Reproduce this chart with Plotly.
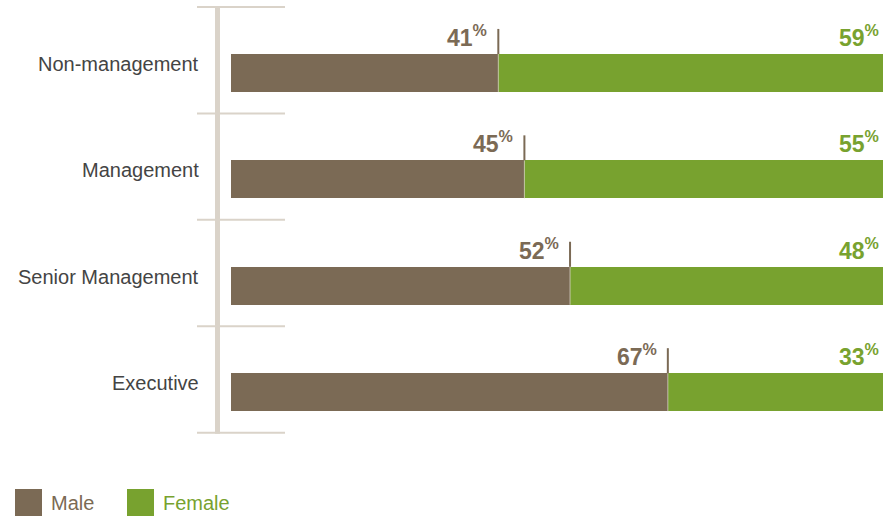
import plotly.graph_objects as go

# Workforce gender split by level (percent)
levels = ["Non-management", "Management", "Senior Management", "Executive"]
male = [41, 45, 52, 67]
female = [59, 55, 48, 33]

BROWN = "#7b6a55"
GREEN = "#78a22f"
AXIS = "#dad3c9"
W, H = 883, 518

fig = go.Figure()
fig.add_trace(go.Bar(y=levels, x=male, orientation="h", name="Male",
                     marker=dict(color=BROWN, line=dict(width=0)),
                     width=0.357, showlegend=False, hoverinfo="skip"))
fig.add_trace(go.Bar(y=levels, x=female, orientation="h", name="Female",
                     marker=dict(color=GREEN, line=dict(width=0)),
                     width=0.357, showlegend=False, hoverinfo="skip"))

shapes = []
annotations = []

# left rail with band separators
shapes.append(dict(type="line", xref="paper", yref="y",
                   x0=217.5 / W, x1=217.5 / W, y0=-0.63, y1=3.39,
                   line=dict(color=AXIS, width=5), layer="below"))
for i in range(len(levels) + 1):
    shapes.append(dict(type="line", xref="paper", yref="y",
                       x0=197 / W, x1=285 / W, y0=i - 0.62, y1=i - 0.62,
                       line=dict(color=AXIS, width=2), layer="below"))

for i, (lvl, m, f) in enumerate(zip(levels, male, female)):
    # category label
    annotations.append(dict(x=201 / W, xref="paper", y=lvl, yref="y",
                            text=lvl, showarrow=False, xanchor="right",
                            yanchor="middle", yshift=9,
                            font=dict(family="Liberation Sans, Arial", size=20,
                                      color="#444444")))
    # split marker above the bar
    shapes.append(dict(type="line", xref="x", yref="y", x0=m, x1=m,
                       y0=i - 0.414, y1=i - 0.178,
                       line=dict(color=BROWN, width=2)))
    shapes.append(dict(type="line", xref="x", yref="y", x0=m, x1=m,
                       y0=i - 0.178, y1=i + 0.178,
                       line=dict(color="rgba(215,208,196,0.8)", width=1)))
    # value labels
    annotations.append(dict(x=m, xref="x", y=lvl, yref="y",
                            text=f"{m}<sup>%</sup>", showarrow=False,
                            xanchor="right", yanchor="middle",
                            xshift=-9, yshift=37,
                            font=dict(family="Liberation Sans, Arial", size=23,
                                      color=BROWN, weight="bold")))
    annotations.append(dict(x=100, xref="x", y=lvl, yref="y",
                            text=f"{f}<sup>%</sup>", showarrow=False,
                            xanchor="right", yanchor="middle",
                            xshift=-2, yshift=37,
                            font=dict(family="Liberation Sans, Arial", size=23,
                                      color=GREEN, weight="bold")))

# legend
for x0, color, name in [(15, BROWN, "Male"), (127, GREEN, "Female")]:
    shapes.append(dict(type="rect", xref="paper", yref="paper",
                       x0=x0 / W, x1=(x0 + 27) / W,
                       y0=1 - 516 / H, y1=1 - 489 / H,
                       fillcolor=color, line=dict(width=0)))
    annotations.append(dict(x=(x0 + 34) / W, xref="paper", y=1 - 502.5 / H,
                            yref="paper", text=name, showarrow=False,
                            xanchor="left", yanchor="middle",
                            font=dict(family="Liberation Sans, Arial", size=20,
                                      color=color)))

fig.update_layout(
    width=W, height=H, barmode="stack",
    margin=dict(l=0, r=0, t=0, b=0),
    paper_bgcolor="white", plot_bgcolor="white",
    xaxis=dict(range=[-35.43, 100], visible=False, fixedrange=True),
    yaxis=dict(range=[4.182, -0.686], visible=False, fixedrange=True,
               type="category", categoryorder="array", categoryarray=levels),
    shapes=shapes, annotations=annotations, bargap=0,
)

fig.write_html("out.html")
